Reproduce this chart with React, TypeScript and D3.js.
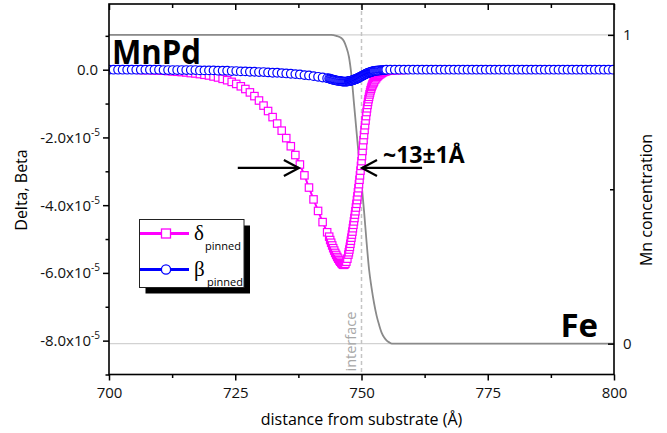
import { useEffect, useRef } from "react";
import * as d3 from "d3";

// distance from substrate (Å); grid is finer around the interface
const DISTANCE = [
  700, 700.9, 701.8, 702.7, 703.6, 704.5, 705.4, 706.3, 707.2, 708.1,
  709, 709.9, 710.8, 711.7, 712.6, 713.5, 714.4, 715.3, 716.2, 717.1,
  718, 718.9, 719.8, 720.7, 721.6, 722.5, 723.4, 724.3, 725.2, 726.1,
  727, 727.9, 728.8, 729.7, 730.6, 731.5, 732.4, 733.3, 734.2, 735.1,
  736, 736.9, 737.8, 738.7, 739.6, 740.5, 741.4, 742.3, 743.2,
  743.6, 743.8, 744, 744.2, 744.4, 744.6, 744.8, 745, 745.2, 745.4,
  745.6, 745.8, 746, 746.2, 746.4, 746.6, 746.8, 747, 747.2, 747.4,
  747.5, 747.6, 747.7, 747.8, 747.9, 748, 748.1, 748.2, 748.3, 748.4,
  748.5, 748.6, 748.7, 748.8, 748.9, 749, 749.1, 749.2, 749.3, 749.4,
  749.5, 749.6, 749.7, 749.8, 749.9, 750, 750.1, 750.2, 750.3, 750.4,
  750.5, 750.6, 750.7, 750.8, 750.9, 751, 751.1, 751.2, 751.3, 751.4,
  751.5, 751.6, 751.7, 751.8, 751.9, 752, 752.1, 752.2, 752.3, 752.4,
  752.5,
  752.7, 752.9, 753.1, 753.3, 753.5, 753.7, 753.9, 754.1, 754.3, 754.5,
  754.7, 754.9,
  755.7, 756.6, 757.5, 758.4, 759.3, 760.2, 761.1, 762, 762.9, 763.8,
  764.7, 765.6, 766.5, 767.4, 768.3, 769.2, 770.1, 771, 771.9, 772.8,
  773.7, 774.6, 775.5, 776.4, 777.3, 778.2, 779.1, 780, 780.9, 781.8,
  782.7, 783.6, 784.5, 785.4, 786.3, 787.2, 788.1, 789, 789.9, 790.8,
  791.7, 792.6, 793.5, 794.4, 795.3, 796.2, 797.1, 798, 798.9, 799.8,
];

// delta pinned, in units of 1e-5
const DELTA_PINNED = [
  0, 0, 0, 0, 0, 0, 0, -0.01, -0.01, -0.01,
  -0.02, -0.02, -0.03, -0.04, -0.05, -0.06, -0.07, -0.08, -0.1, -0.11,
  -0.13, -0.15, -0.17, -0.2, -0.23, -0.27, -0.31, -0.36, -0.42, -0.49,
  -0.57, -0.67, -0.78, -0.91, -1.06, -1.22, -1.4, -1.59, -1.8, -2.02,
  -2.26, -2.52, -2.8, -3.12, -3.48, -3.83, -4.17, -4.5, -4.8,
  -4.93, -5.03, -5.11, -5.19, -5.27, -5.34, -5.41, -5.47, -5.53, -5.58,
  -5.63, -5.67, -5.71, -5.74, -5.76, -5.76, -5.73, -5.67, -5.58, -5.46,
  -5.39, -5.31, -5.23, -5.14, -5.05, -4.96, -4.87, -4.78, -4.68, -4.58,
  -4.48, -4.38, -4.28, -4.18, -4.07, -3.96, -3.85, -3.74, -3.62, -3.5,
  -3.38, -3.25, -3.12, -2.98, -2.84, -2.7, -2.55, -2.4, -2.24, -2.08,
  -1.93, -1.78, -1.64, -1.5, -1.37, -1.25, -1.14, -1.04, -0.95, -0.87,
  -0.8, -0.73, -0.67, -0.61, -0.56, -0.51, -0.47, -0.43, -0.4, -0.37,
  -0.34,
  -0.29, -0.25, -0.21, -0.18, -0.15, -0.13, -0.11, -0.09, -0.07, -0.06,
  -0.05, -0.04,
  -0.03, -0.02, -0.01, -0.01, 0, 0, 0, 0, 0, 0,
  0, 0, 0, 0, 0, 0, 0, 0, 0, 0,
  0, 0, 0, 0, 0, 0, 0, 0, 0, 0,
  0, 0, 0, 0, 0, 0, 0, 0, 0, 0,
  0, 0, 0, 0, 0, 0, 0, 0, 0, 0,
];

// beta pinned, in units of 1e-5
const BETA_PINNED = [
  0, 0, 0, 0, 0, 0, 0, 0, 0, 0,
  0, 0, -0.01, -0.01, -0.01, -0.01, -0.01, -0.01, -0.01, -0.01,
  -0.02, -0.02, -0.02, -0.02, -0.03, -0.03, -0.03, -0.04, -0.04, -0.05,
  -0.05, -0.06, -0.06, -0.07, -0.07, -0.08, -0.09, -0.09, -0.1, -0.11,
  -0.12, -0.13, -0.14, -0.16, -0.17, -0.19, -0.21, -0.23, -0.25,
  -0.26, -0.27, -0.28, -0.29, -0.3, -0.3, -0.31, -0.32, -0.32, -0.33,
  -0.33, -0.34, -0.34, -0.35, -0.35, -0.35, -0.35, -0.35, -0.35, -0.34,
  -0.34, -0.34, -0.33, -0.33, -0.33, -0.32, -0.32, -0.31, -0.31, -0.3,
  -0.3, -0.29, -0.29, -0.28, -0.28, -0.27, -0.26, -0.26, -0.25, -0.24,
  -0.23, -0.23, -0.22, -0.21, -0.2, -0.19, -0.19, -0.18, -0.17, -0.16,
  -0.15, -0.15, -0.14, -0.13, -0.12, -0.12, -0.11, -0.1, -0.1, -0.09,
  -0.09, -0.08, -0.08, -0.07, -0.07, -0.06, -0.06, -0.05, -0.05, -0.05,
  -0.04,
  -0.04, -0.03, -0.03, -0.03, -0.02, -0.02, -0.02, -0.01, -0.01, -0.01,
  -0.01, 0,
  0, 0, 0, 0, 0, 0, 0, 0, 0, 0,
  0, 0, 0, 0, 0, 0, 0, 0, 0, 0,
  0, 0, 0, 0, 0, 0, 0, 0, 0, 0,
  0, 0, 0, 0, 0, 0, 0, 0, 0, 0,
  0, 0, 0, 0, 0, 0, 0, 0, 0, 0,
];

// Mn concentration profile (right axis)
const MN_DISTANCE = [
  700, 744, 745, 746, 746.5, 747, 747.5, 748, 748.5, 749, 749.5, 750,
  750.5, 751, 751.5, 752, 752.5, 753, 753.5, 754, 754.5, 755, 755.5, 756, 800,
];
const MN_CONCENTRATION = [
  1, 1, 0.997, 0.99, 0.98, 0.96, 0.93, 0.87, 0.78, 0.69, 0.6, 0.52,
  0.43, 0.33, 0.24, 0.18, 0.13, 0.09, 0.06, 0.035, 0.02, 0.01, 0.004, 0, 0,
];

const X_TICKS = [700, 725, 750, 775, 800];
const X_MINOR = [712.5, 737.5, 762.5, 787.5];
const LEFT_TICKS = [0, -2, -4, -6, -8];
const LEFT_MINOR = [1, -1, -3, -5, -7, -9];
const RIGHT_TICKS = [0, 1];
const RIGHT_MINOR = [0.5];

const WIDTH = 667;
const HEIGHT = 433;
const FONT = "'Open Sans', sans-serif";
const MAGENTA = "#ff00ff";
const BLUE = "#0000ff";

export default function App() {
  const svgRef = useRef<SVGSVGElement>(null);

  useEffect(() => {
    if (!svgRef.current) return;
    const svg = d3.select(svgRef.current);
    svg.selectAll("*").remove();

    const L = 109, R = 614, T = 4, B = 374.5;
    const x = d3.scaleLinear().domain([700, 800]).range([L, R]);
    const yL = d3.scaleLinear().domain([-9, 1.94]).range([B, T]);
    const yR = d3.scaleLinear().domain([-0.1, 1.1]).range([B, T]);

    svg.append("rect").attr("width", WIDTH).attr("height", HEIGHT).attr("fill", "#fff");

    svg.append("defs").append("clipPath").attr("id", "plot-clip")
      .append("rect").attr("x", L).attr("y", T).attr("width", R - L).attr("height", B - T);

    // grid lines at Mn = 0 and 1
    RIGHT_TICKS.forEach((v) => {
      svg.append("line")
        .attr("x1", L).attr("x2", R)
        .attr("y1", yR(v)).attr("y2", yR(v))
        .attr("stroke", "#d2d2d2").attr("stroke-width", 1.2);
    });

    // interface marker
    svg.append("line")
      .attr("x1", x(750)).attr("x2", x(750))
      .attr("y1", T).attr("y2", B)
      .attr("stroke", "#c4c4c4").attr("stroke-width", 1.5)
      .attr("stroke-dasharray", "4,3");
    svg.append("text")
      .attr("transform", `translate(${x(750) - 6},${B - 3}) rotate(-90)`)
      .attr("font-family", FONT).attr("font-size", 14.5)
      .attr("fill", "#a8a8a8")
      .text("interface");

    const plot = svg.append("g").attr("clip-path", "url(#plot-clip)");

    // Mn concentration
    const mnLine = d3.line<number>()
      .x((_, i) => x(MN_DISTANCE[i]))
      .y((d) => yR(d))
      .curve(d3.curveMonotoneX);
    plot.append("path")
      .attr("d", mnLine(MN_CONCENTRATION))
      .attr("fill", "none").attr("stroke", "#8a8a8a").attr("stroke-width", 1.8);

    const seriesLine = d3.line<number>()
      .x((_, i) => x(DISTANCE[i]))
      .y((d) => yL(d));

    // delta
    plot.append("path")
      .attr("d", seriesLine(DELTA_PINNED))
      .attr("fill", "none").attr("stroke", MAGENTA).attr("stroke-width", 2);
    plot.selectAll(".sq")
      .data(DELTA_PINNED)
      .enter().append("rect")
      .attr("x", (_, i) => x(DISTANCE[i]) - 3.7)
      .attr("y", (d) => yL(d) - 3.7)
      .attr("width", 7.4).attr("height", 7.4)
      .attr("fill", "#fff").attr("stroke", MAGENTA).attr("stroke-width", 1.2);

    // beta
    plot.append("path")
      .attr("d", seriesLine(BETA_PINNED))
      .attr("fill", "none").attr("stroke", BLUE).attr("stroke-width", 2);
    plot.selectAll(".ci")
      .data(BETA_PINNED)
      .enter().append("circle")
      .attr("cx", (_, i) => x(DISTANCE[i]))
      .attr("cy", (d) => yL(d))
      .attr("r", 4.3)
      .attr("fill", "#fff").attr("stroke", BLUE).attr("stroke-width", 1.2);

    // axes
    const styleAxis = (g: any) => {
      g.select(".domain").remove();
      g.selectAll("line").attr("stroke", "#000").attr("stroke-width", 1.5);
      g.selectAll("text").attr("font-family", FONT).attr("font-size", 15).attr("fill", "#111");
    };

    svg.append("g").attr("transform", `translate(0,${B})`)
      .call(d3.axisBottom(x).tickValues(X_TICKS).tickSize(6).tickPadding(7).tickFormat(d3.format("d")))
      .call(styleAxis);
    svg.append("g").attr("transform", `translate(0,${B})`)
      .call(d3.axisBottom(x).tickValues(X_MINOR).tickSize(3.5).tickFormat(() => ""))
      .call(styleAxis);
    svg.append("g").attr("transform", `translate(0,${T})`)
      .call(d3.axisTop(x).tickValues(X_TICKS).tickSize(-6).tickFormat(() => ""))
      .call(styleAxis);
    svg.append("g").attr("transform", `translate(0,${T})`)
      .call(d3.axisTop(x).tickValues(X_MINOR).tickSize(-4).tickFormat(() => ""))
      .call(styleAxis);

    svg.append("g").attr("transform", `translate(${L},0)`)
      .call(d3.axisLeft(yL).tickValues(LEFT_TICKS).tickSize(6).tickFormat(() => ""))
      .call(styleAxis);
    svg.append("g").attr("transform", `translate(${L},0)`)
      .call(d3.axisLeft(yL).tickValues(LEFT_MINOR).tickSize(3.5).tickFormat(() => ""))
      .call(styleAxis);

    LEFT_TICKS.forEach((t) => {
      const label = svg.append("text")
        .attr("x", t === 0 ? L - 11 : L - 9)
        .attr("y", yL(t) + 5.5)
        .attr("text-anchor", "end")
        .attr("font-family", FONT).attr("font-size", 15).attr("fill", "#111");
      if (t === 0) {
        label.text("0.0");
      } else {
        label.append("tspan").text(`${t.toFixed(1)}x10`);
        label.append("tspan").attr("dy", -7).attr("font-size", 10).text("-5");
      }
    });

    svg.append("g").attr("transform", `translate(${R},0)`)
      .call(d3.axisRight(yR).tickValues(RIGHT_TICKS).tickSize(-6).tickPadding(9).tickFormat(d3.format("d")))
      .call(styleAxis);
    svg.append("g").attr("transform", `translate(${R},0)`)
      .call(d3.axisRight(yR).tickValues(RIGHT_MINOR).tickSize(-4).tickFormat(() => ""))
      .call(styleAxis);

    // frame
    svg.append("rect")
      .attr("x", L).attr("y", T).attr("width", R - L).attr("height", B - T)
      .attr("fill", "none").attr("stroke", "#000").attr("stroke-width", 1.6);

    // axis titles
    svg.append("text")
      .attr("x", (L + R) / 2).attr("y", 425)
      .attr("text-anchor", "middle")
      .attr("font-family", FONT).attr("font-size", 16)
      .text("distance from substrate (Å)");
    svg.append("text")
      .attr("transform", `translate(27,190) rotate(-90)`)
      .attr("text-anchor", "middle")
      .attr("font-family", FONT).attr("font-size", 16)
      .text("Delta, Beta");
    svg.append("text")
      .attr("transform", `translate(652,200) rotate(-90)`)
      .attr("text-anchor", "middle")
      .attr("font-family", FONT).attr("font-size", 16)
      .text("Mn concentration");

    // labels
    svg.append("text")
      .attr("x", L + 3).attr("y", 63.5)
      .attr("font-family", FONT).attr("font-weight", "bold").attr("font-size", 34)
      .attr("textLength", 89).attr("lengthAdjust", "spacingAndGlyphs")
      .text("MnPd");
    svg.append("text")
      .attr("x", 598).attr("y", 337)
      .attr("text-anchor", "end")
      .attr("font-family", FONT).attr("font-weight", "bold").attr("font-size", 33)
      .text("Fe");
    svg.append("text")
      .attr("x", 383).attr("y", 163)
      .attr("font-family", FONT).attr("font-weight", "bold").attr("font-size", 23)
      .text("~13±1Å");

    // width arrows
    const arrowY = yL(-2.9);
    const arrow = (from: number, to: number) => {
      const x0 = x(from), x1 = x(to);
      const dir = Math.sign(x1 - x0);
      svg.append("line")
        .attr("x1", x0).attr("x2", x1).attr("y1", arrowY).attr("y2", arrowY)
        .attr("stroke", "#000").attr("stroke-width", 2.2);
      svg.append("path")
        .attr("d", `M${x1 - dir * 15},${arrowY - 8} L${x1},${arrowY} L${x1 - dir * 15},${arrowY + 8}`)
        .attr("fill", "none").attr("stroke", "#000").attr("stroke-width", 2.2);
    };
    arrow(725.5, 737.6);
    arrow(762, 750.1);

    // legend
    const lg = svg.append("g");
    lg.append("rect").attr("x", 145.5).attr("y", 225.5).attr("width", 104.5).attr("height", 68).attr("fill", "#000");
    lg.append("rect").attr("x", 139.5).attr("y", 219.5).attr("width", 104.5).attr("height", 68)
      .attr("fill", "#fff").attr("stroke", "#222").attr("stroke-width", 1);

    const entries = [
      { y: 233.5, color: MAGENTA, symbol: "δ", square: true, subX: 205 },
      { y: 269.5, color: BLUE, symbol: "β", square: false, subX: 207 },
    ];
    entries.forEach((e) => {
      lg.append("line").attr("x1", 140).attr("x2", 189).attr("y1", e.y).attr("y2", e.y)
        .attr("stroke", e.color).attr("stroke-width", 3);
      if (e.square) {
        lg.append("rect").attr("x", 161.5).attr("y", e.y - 4.5).attr("width", 9).attr("height", 9)
          .attr("fill", "#fff").attr("stroke", e.color).attr("stroke-width", 1.3);
      } else {
        lg.append("circle").attr("cx", 166).attr("cy", e.y).attr("r", 4.6)
          .attr("fill", "#fff").attr("stroke", e.color).attr("stroke-width", 1.3);
      }
      lg.append("text").attr("x", 194).attr("y", e.y + 6.5)
        .attr("font-family", "'Liberation Serif', serif").attr("font-size", 21)
        .text(e.symbol);
      lg.append("text").attr("x", e.subX).attr("y", e.y + 16)
        .attr("font-family", FONT).attr("font-size", 11)
        .text("pinned");
    });
  }, []);

  return (
    <svg
      ref={svgRef}
      width={WIDTH}
      height={HEIGHT}
      style={{ position: "absolute", left: 0, top: 0, display: "block" }}
    />
  );
}
